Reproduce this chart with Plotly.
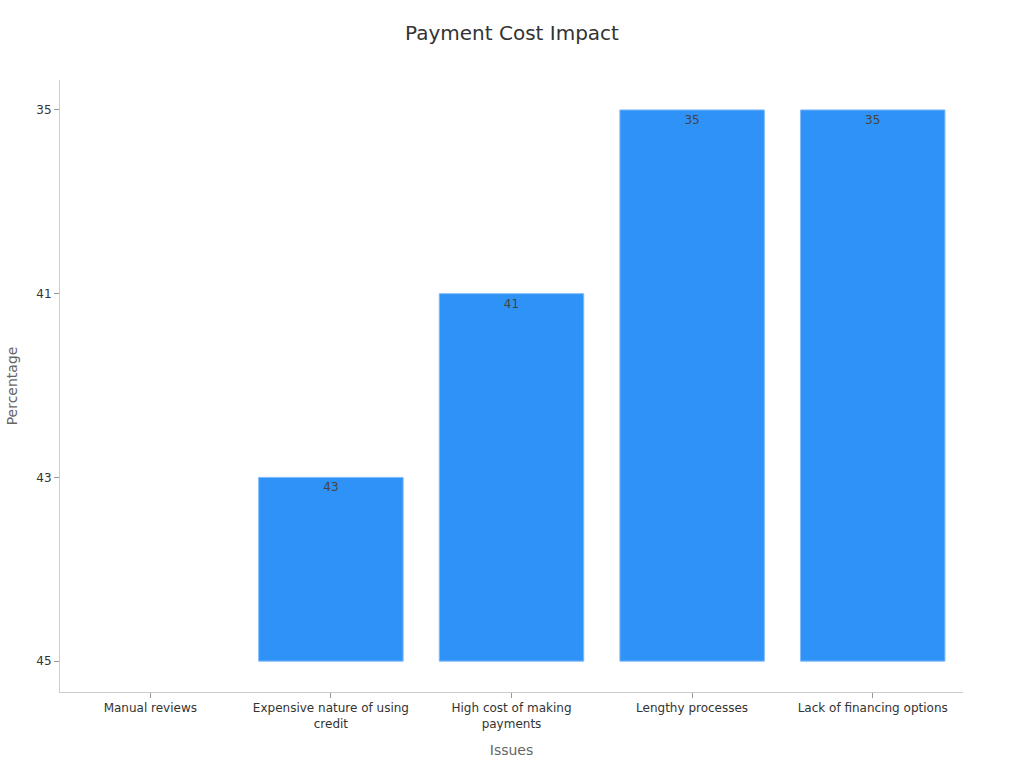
import plotly.graph_objects as go

issues = ["Manual reviews", "Expensive nature of using<br>credit", "High cost of making<br>payments",
          "Lengthy processes", "Lack of financing options"]
percentages = ["45", "43", "41", "35", "35"]
y_order = ["45", "43", "41", "35"]

# no outline on the empty bar (it sits on the base category)
line_widths = [0 if p == y_order[0] else 1 for p in percentages]

fig = go.Figure()
fig.add_trace(go.Bar(x=issues, y=percentages,
                     text=percentages,
                     textposition="inside",
                     insidetextanchor="end",
                     textfont=dict(color="#444444", size=12),
                     marker=dict(color="#2f92f7", line=dict(color="#7fbaf9", width=line_widths))))

fig.update_layout(
    title=dict(text="Payment Cost Impact", x=0.5, y=0.957, xanchor="center", yanchor="middle",
               yref="container", font=dict(size=20, color="#333333")),
    font=dict(family="DejaVu Sans", size=12, color="#333333"),
    plot_bgcolor="white", paper_bgcolor="white",
    width=1024, height=768,
    margin=dict(l=60, r=61, t=80, b=76),
    bargap=0.2,
    showlegend=False,
)
fig.update_xaxes(title=dict(text="Issues", font=dict(size=14, color="#666666")),
                 showline=True, linecolor="#cccccc", ticks="outside", tickcolor="#999999",
                 ticklen=5, tickfont=dict(size=12, color="#333333"))
fig.update_yaxes(title=dict(text="Percentage", font=dict(size=14, color="#666666")),
                 type="category", categoryorder="array", categoryarray=y_order,
                 range=[-0.168, 3.163],
                 showline=True, linecolor="#cccccc", ticks="outside", tickcolor="#999999",
                 ticklen=5, showgrid=False, tickfont=dict(size=12, color="#333333"))

fig.write_html("out.html", config={"displayModeBar": False},
               post_script="document.body.style.margin='0';")
